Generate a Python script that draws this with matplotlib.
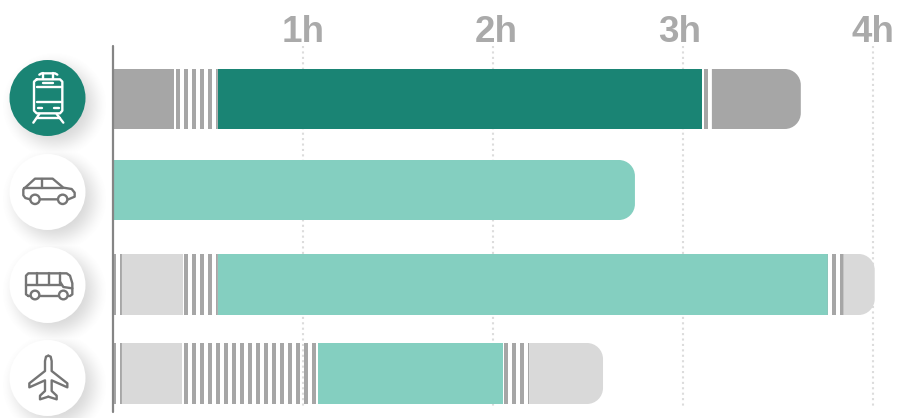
import numpy as np
import matplotlib
matplotlib.use('Agg')
import matplotlib.pyplot as plt
from matplotlib.patches import Circle, PathPatch, Rectangle
from matplotlib.path import Path

W, H = 899, 418
PX_PER_HOUR = 190.0
ORIGIN = 113.0

hour_ticks = [1, 2, 3, 4]
hour_labels = ['1h', '2h', '3h', '4h']
label_pos = [1.0, 2.015, 2.98, 4.0]

train_kinds = ['walk', 'wait', 'ride', 'wait', 'walk']
train_hours = [0.32, 0.232, 2.547, 0.053, 0.468]
car_kinds = ['ride']
car_hours = [2.747]
bus_kinds = ['wait', 'walk', 'wait', 'ride', 'wait', 'walk']
bus_hours = [0.047, 0.321, 0.184, 3.21, 0.084, 0.163]
plane_kinds = ['wait', 'walk', 'wait', 'ride', 'wait', 'walk']
plane_hours = [0.047, 0.316, 0.716, 0.974, 0.137, 0.389]

DARK = '#1a8474'
LIGHT = '#84cfc0'
GRAY = '#a6a6a6'
PALE = '#d9d9d9'
ICON = '#757575'

rows = [
    (train_kinds, train_hours, 69, 129, DARK, GRAY),
    (car_kinds, car_hours, 160, 220, LIGHT, PALE),
    (bus_kinds, bus_hours, 254, 315, LIGHT, PALE),
    (plane_kinds, plane_hours, 343, 404, LIGHT, PALE),
]
circle_y = [98, 192, 285, 378]
circle_x = 47.5
circle_r = 38

plt.rcParams['font.family'] = ['Liberation Sans', 'DejaVu Sans']
fig = plt.figure(figsize=(W / 100, H / 100), dpi=100)

# chart axes: x in hours, y in pixels
ax = fig.add_axes([0, 0, 1, 1])
ax.set_xlim(-ORIGIN / PX_PER_HOUR, (W - ORIGIN) / PX_PER_HOUR)
ax.set_ylim(H, 0)
ax.axis('off')


def rounded_end(ax, x0, x1, y0, y1, color, radius=16):
    rx = radius / PX_PER_HOUR
    k = 0.45
    verts = [(x0, y0), (x1 - rx, y0), (x1 - rx * k, y0), (x1, y0 + radius * k), (x1, y0 + radius),
             (x1, y1 - radius), (x1, y1 - radius * k), (x1 - rx * k, y1), (x1 - rx, y1),
             (x0, y1), (x0, y0)]
    codes = [Path.MOVETO, Path.LINETO, Path.CURVE4, Path.CURVE4, Path.CURVE4,
             Path.LINETO, Path.CURVE4, Path.CURVE4, Path.CURVE4,
             Path.LINETO, Path.CLOSEPOLY]
    ax.add_patch(PathPatch(Path(verts, codes), fc=color, ec='none', zorder=3))


def stripes(ax, x0, x1, y0, y1):
    # the stripes sit on one grid shared by all the rows
    period = 8 / PX_PER_HOUR
    width = 4 / PX_PER_HOUR
    start = (176 - ORIGIN) / PX_PER_HOUR
    k = int(np.floor((x0 - start) / period))
    while start + k * period < x1:
        a = max(x0, start + k * period)
        b = min(x1, start + k * period + width)
        if b > a:
            # snap off, the edges are on whole pixels already
            r = Rectangle((a, y0), b - a, y1 - y0, fc=GRAY, ec='none', zorder=3)
            r.set_snap(False)
            ax.add_patch(r)
        k += 1


for h in hour_ticks:
    ax.plot([h, h], [46, 407], color='#dcdcdc', lw=1.5, ls=(0, (1, 1.6)), zorder=1)
for pos, lab in zip(label_pos, hour_labels):
    ax.text(pos, 42, lab, ha='center', va='baseline', fontsize=26.5, fontweight='bold', color='#aaaaaa')

for kinds, hours, y0, y1, ride_col, walk_col in rows:
    edges = np.concatenate([[0], np.cumsum(hours)])
    for i, kind in enumerate(kinds):
        x0, x1 = edges[i], edges[i + 1]
        col = ride_col if kind == 'ride' else walk_col
        if kind == 'wait':
            stripes(ax, x0, x1, y0, y1)
        elif i == len(kinds) - 1:
            rounded_end(ax, x0, x1, y0, y1, col)
        else:
            ax.add_patch(Rectangle((x0, y0), x1 - x0, y1 - y0, fc=col, ec='none', zorder=3))

ax.plot([0, 0], [46, 412], color='#858585', lw=1.6, zorder=5, solid_capstyle='round')

# icon axes: plain pixels
ic = fig.add_axes([0, 0, 1, 1], facecolor='none')
ic.axis('off')

# soft shadows behind the circles
yy, xx = np.mgrid[0:H, 0:130]
shadow = np.zeros((H, 130))
for cy in circle_y:
    d = np.hypot(xx + 0.5 - (circle_x + 7), yy + 0.5 - (cy + 7))
    t = np.clip((circle_r + 16 - d) / 30, 0, 1)
    shadow = np.maximum(shadow, t * t * (3 - 2 * t) * 0.3)
rgba = np.zeros((H, 130, 4))
rgba[..., :3] = 0.5
rgba[..., 3] = shadow
ic.imshow(rgba, extent=(0, 130, H, 0), aspect='auto', zorder=1, interpolation='bilinear')
ic.set_xlim(0, W)
ic.set_ylim(H, 0)

for i, cy in enumerate(circle_y):
    ic.add_patch(Circle((circle_x, cy), circle_r, fc=DARK if i == 0 else 'white', ec='none', zorder=2))


def line(pts, oy, color=ICON, lw=1.7):
    p = np.array(pts, dtype=float) / 3
    ic.plot(p[:, 0], p[:, 1] + oy, color=color, lw=lw, zorder=4,
            solid_capstyle='round', solid_joinstyle='round')


def ring(x, y, r, oy, color=ICON, lw=1.7):
    ic.add_patch(Circle((x / 3, y / 3 + oy), r / 3, fc='white', ec=color, lw=lw, zorder=5))


# train
oy = 40
line([(110, 118), (180, 118), (187, 125), (187, 212), (180, 220), (110, 220), (102, 212), (102, 125), (110, 118)], oy, 'white')
line([(111, 142), (185, 142)], oy, 'white')
line([(111, 185), (185, 185)], oy, 'white')
line([(130, 130), (160, 130)], oy, 'white')
line([(114, 205), (127, 205)], oy, 'white')
line([(163, 205), (177, 205)], oy, 'white')
line([(118, 104), (125, 100), (165, 100), (172, 104)], oy, 'white')
line([(130, 100), (130, 117)], oy, 'white')
line([(158, 100), (158, 117)], oy, 'white')
line([(118, 222), (100, 248)], oy, 'white')
line([(170, 222), (190, 248)], oy, 'white')
line([(110, 235), (180, 235)], oy, 'white')

# car
line([(90, 478), (76, 474), (70, 466), (70, 448), (105, 416), (158, 416), (190, 443), (215, 447), (224, 458), (224, 470), (205, 478), (90, 478)], oy)
line([(72, 445), (190, 445)], oy)
line([(126, 416), (126, 445)], oy)
ring(105, 478, 14, oy)
ring(188, 478, 14, oy)

# bus
oy = 235
line([(85, 183), (78, 178), (78, 122), (85, 115), (200, 115), (210, 122), (217, 145), (217, 178), (210, 183), (85, 183)], oy)
line([(78, 150), (185, 150)], oy)
for vx in (112, 147, 180):
    line([(vx, 115), (vx, 150)], oy)
line([(180, 140), (190, 156), (217, 160)], oy)
ring(105, 180, 13, oy)
ring(190, 180, 13, oy)

# plane
cx = 145
half = [(0, 362), (7, 365), (10, 378), (10, 408), (57, 445), (57, 457), (10, 436), (10, 468), (25, 482), (25, 493), (0, 485)]
line([(cx + a, b) for a, b in half], oy)
line([(cx - a, b) for a, b in half], oy)

fig.savefig('out.png', dpi=100)
